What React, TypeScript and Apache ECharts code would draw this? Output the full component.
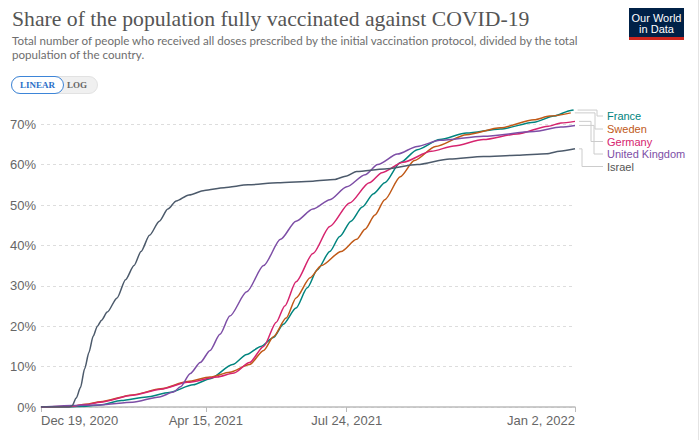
import React, { useEffect, useRef } from "react";
import * as echarts from "echarts";

const seriesNames = ["France", "Sweden", "Germany", "United Kingdom", "Israel"];

const franceDates = ["2020-12-19", "2021-01-08", "2021-01-20", "2021-01-30", "2021-02-14", "2021-03-04", "2021-03-20", "2021-04-06", "2021-04-18", "2021-05-04", "2021-05-14", "2021-05-24", "2021-06-02", "2021-06-09", "2021-06-18", "2021-06-26", "2021-07-03", "2021-07-12", "2021-07-19", "2021-07-27", "2021-08-04", "2021-08-12", "2021-08-20", "2021-08-31", "2021-09-12", "2021-09-28", "2021-10-17", "2021-11-10", "2021-12-04", "2021-12-18", "2021-12-30", "2022-01-01"];
const franceValues = [0, 0, 0.2, 0.5, 1.6, 2.5, 3.6, 5.5, 7, 10.5, 13, 15, 17.2, 20.5, 24.5, 29.5, 33.9, 38.5, 42.2, 46, 49.5, 52.8, 55.5, 60.5, 63.7, 66.2, 67.8, 68.8, 70.5, 72, 73.4, 73.5];

const swedenDates = ["2020-12-19", "2021-01-08", "2021-01-20", "2021-01-30", "2021-02-22", "2021-03-14", "2021-04-02", "2021-04-18", "2021-05-02", "2021-05-16", "2021-05-26", "2021-06-02", "2021-06-11", "2021-06-18", "2021-06-28", "2021-07-06", "2021-07-20", "2021-07-31", "2021-08-06", "2021-08-13", "2021-08-20", "2021-08-31", "2021-09-10", "2021-09-25", "2021-10-17", "2021-11-10", "2021-12-04", "2021-12-15", "2021-12-30"];
const swedenValues = [0, 0.1, 0.7, 1.3, 3, 4.5, 6.3, 7.4, 8.6, 10.5, 14, 17.4, 22, 27, 32, 35, 38.5, 41.5, 44, 47.5, 51.3, 57, 61, 64.5, 67.4, 69.1, 71.1, 72, 72.8];

const germanyDates = ["2020-12-19", "2021-01-08", "2021-01-20", "2021-01-30", "2021-02-22", "2021-03-14", "2021-04-02", "2021-04-23", "2021-05-05", "2021-05-16", "2021-05-26", "2021-06-04", "2021-06-10", "2021-06-18", "2021-06-30", "2021-07-12", "2021-07-26", "2021-08-09", "2021-08-18", "2021-09-02", "2021-09-22", "2021-10-08", "2021-10-29", "2021-11-22", "2021-12-14", "2021-12-23", "2022-01-02"];
const germanyValues = [0, 0.1, 0.6, 1.2, 2.9, 4.4, 6.1, 7.4, 8.4, 11, 15, 21, 25, 31, 38, 44.7, 50.5, 55.5, 58, 60.6, 63.3, 64.6, 66.2, 67.6, 69.5, 70.3, 70.7];

const ukDates = ["2020-12-19", "2021-01-10", "2021-01-30", "2021-02-22", "2021-03-13", "2021-03-23", "2021-03-28", "2021-04-04", "2021-04-11", "2021-04-18", "2021-04-25", "2021-05-02", "2021-05-14", "2021-05-26", "2021-06-07", "2021-06-18", "2021-06-30", "2021-07-12", "2021-07-24", "2021-08-06", "2021-08-15", "2021-08-29", "2021-09-12", "2021-09-28", "2021-10-29", "2021-12-04", "2021-12-23", "2022-01-02"];
const ukValues = [0, 0.4, 0.5, 1.2, 2.5, 3.7, 5, 8.3, 11, 14, 18, 22.5, 28.5, 35, 41.5, 46, 49, 51.3, 54.5, 57.5, 60, 62.6, 64.5, 66, 67, 68.2, 69.3, 69.7];

const israelDates = ["2020-12-19", "2021-01-08", "2021-01-10", "2021-01-13", "2021-01-16", "2021-01-19", "2021-01-22", "2021-01-25", "2021-01-28", "2021-01-31", "2021-02-04", "2021-02-11", "2021-02-17", "2021-02-23", "2021-02-28", "2021-03-06", "2021-03-13", "2021-03-19", "2021-03-25", "2021-04-03", "2021-04-14", "2021-04-28", "2021-05-15", "2021-06-05", "2021-06-30", "2021-07-15", "2021-07-24", "2021-07-31", "2021-08-20", "2021-09-12", "2021-10-05", "2021-10-29", "2021-11-22", "2021-12-13", "2021-12-22", "2022-01-02"];
const israelValues = [0, 0, 0.3, 2.2, 4.8, 9.5, 13.5, 17.5, 20, 21.5, 23.5, 27, 31.5, 35, 38.5, 42.5, 46, 49, 51, 52.5, 53.6, 54.3, 55, 55.5, 55.9, 56.3, 57.2, 58.3, 58.9, 60, 61.4, 62, 62.3, 62.7, 63.3, 63.9];

const xTickDates = ["2020-12-19", "2021-04-15", "2021-07-24", "2022-01-02"];
const xTickLabels = ["Dec 19, 2020", "Apr 15, 2021", "Jul 24, 2021", "Jan 2, 2022"];
const yTicks = [0, 10, 20, 30, 40, 50, 60, 70];

const colors = ["#00847e", "#c05917", "#d6246e", "#7d4ea6", "#4c5a6b"];
const labelColors = ["#00847e", "#c05917", "#d6246e", "#7d4ea6", "#555"];
const labelY = [116, 129, 141.5, 154, 166.5];
const stepX = [597, 595, 591, 594, 582];

const toTs = (d: string) => Date.parse(d + "T00:00:00Z");

export default function App() {
  const ref = useRef<HTMLDivElement>(null);
  useEffect(() => {
    const chart = echarts.init(ref.current!, null, { renderer: "svg" });
    const allDates = [franceDates, swedenDates, germanyDates, ukDates, israelDates];
    const allValues = [franceValues, swedenValues, germanyValues, ukValues, israelValues];
    const series = seriesNames.map((name, i) => ({
      name,
      type: "line",
      data: allDates[i].map((d, j) => [toTs(d), allValues[i][j]]),
      showSymbol: false,
      smooth: 0.25,
      smoothMonotone: "x",
      lineStyle: { color: colors[i], width: 1.5 },
      itemStyle: { color: colors[i] },
    }));
    const tickValues = xTickDates.map(toTs);
    chart.setOption({
      animation: false,
      backgroundColor: "#fff",
      grid: { left: 41, right: 125, top: 104, bottom: 33, containLabel: false },
      xAxis: {
        type: "value",
        min: tickValues[0],
        max: tickValues[tickValues.length - 1],
        axisLine: { lineStyle: { color: "#bbb", width: 1.5 } },
        axisTick: { show: true, customValues: tickValues, length: 5, lineStyle: { color: "#bbb" } },
        splitLine: { show: false },
        axisLabel: {
          customValues: tickValues,
          color: "#666",
          fontSize: 13,
          fontFamily: "Liberation Sans, Arial, sans-serif",
          margin: 7,
          alignMinLabel: "left",
          alignMaxLabel: "right",
          formatter: (v: number) => {
            const k = tickValues.indexOf(v);
            return k >= 0 ? xTickLabels[k] : "";
          },
        },
      },
      yAxis: {
        type: "value",
        min: 0,
        max: 75,
        interval: 10,
        axisLine: { show: false },
        axisTick: { show: false },
        splitLine: { show: true, showMaxLine: false, lineStyle: { color: "#ddd", type: [3, 3] } },
        axisLabel: {
          color: "#666",
          fontSize: 13,
          fontFamily: "Liberation Sans, Arial, sans-serif",
          margin: 5,
          showMaxLabel: false,
          formatter: (v: number) => (yTicks.indexOf(v) >= 0 ? v + "%" : ""),
        },
      },
      series,
    });

    const connectors: any[] = [];
    const labels: any[] = [];
    seriesNames.forEach((name, i) => {
      const ds = allDates[i];
      const vs = allValues[i];
      const p = chart.convertToPixel({ gridIndex: 0 }, [toTs(ds[ds.length - 1]), vs[vs.length - 1]]) as number[];
      connectors.push({
        type: "polyline",
        id: "conn" + i,
        silent: true,
        shape: { points: [[p[0] + 4, p[1]], [stepX[i], p[1]], [stepX[i], labelY[i]], [603, labelY[i]]] },
        style: { stroke: "#ccc", lineWidth: 1, fill: null },
      });
      labels.push({
        type: "text",
        id: "lab" + i,
        x: 607,
        y: labelY[i],
        style: {
          text: name,
          fill: labelColors[i],
          font: "11px 'Liberation Sans', Arial, sans-serif",
          verticalAlign: "middle",
        },
      });
    });

    chart.setOption({
      graphic: [
        {
          type: "text",
          id: "title",
          x: 12,
          y: 19,
          style: {
            text: "Share of the population fully vaccinated against COVID-19",
            fill: "#555",
            font: "21.7px 'Liberation Serif', 'Times New Roman', serif",
            verticalAlign: "middle",
          },
        },
        {
          type: "text",
          id: "sub1",
          x: 12,
          y: 40,
          style: {
            text: "Total number of people who received all doses prescribed by the initial vaccination protocol, divided by the total",
            fill: "#6e6e6e",
            font: "11.6px Lato, 'Liberation Sans', sans-serif",
            verticalAlign: "middle",
          },
        },
        {
          type: "text",
          id: "sub2",
          x: 12,
          y: 54,
          style: {
            text: "population of the country.",
            fill: "#6e6e6e",
            font: "11.6px Lato, 'Liberation Sans', sans-serif",
            verticalAlign: "middle",
          },
        },
        {
          type: "rect",
          id: "toggleBg",
          shape: { x: 11.5, y: 76.5, width: 86, height: 17, r: 8.5 },
          style: { fill: "#f0f0f0", stroke: "#e2e2e2", lineWidth: 1 },
        },
        {
          type: "rect",
          id: "toggleOn",
          shape: { x: 11.5, y: 76.5, width: 52, height: 17, r: 8.5 },
          style: { fill: "#fff", stroke: "#3d85d8", lineWidth: 1 },
        },
        {
          type: "text",
          id: "tLinear",
          x: 37.5,
          y: 85,
          style: {
            text: "LINEAR",
            fill: "#2b6fc9",
            font: "bold 9px 'Liberation Serif', serif",
            align: "center",
            verticalAlign: "middle",
          },
        },
        {
          type: "text",
          id: "tLog",
          x: 77,
          y: 85,
          style: {
            text: "LOG",
            fill: "#666",
            font: "bold 9px 'Liberation Serif', serif",
            align: "center",
            verticalAlign: "middle",
          },
        },
        {
          type: "rect",
          id: "logoBg",
          shape: { x: 629, y: 8, width: 55, height: 32 },
          style: { fill: "#002147" },
        },
        {
          type: "rect",
          id: "logoRed",
          shape: { x: 629, y: 37, width: 55, height: 3 },
          style: { fill: "#ce261e" },
        },
        {
          type: "text",
          id: "logo1",
          x: 656.5,
          y: 17.5,
          style: {
            text: "Our World",
            fill: "#fff",
            font: "11px 'Liberation Sans', Arial, sans-serif",
            align: "center",
            verticalAlign: "middle",
          },
        },
        {
          type: "text",
          id: "logo2",
          x: 656.5,
          y: 29,
          style: {
            text: "in Data",
            fill: "#fff",
            font: "11px 'Liberation Sans', Arial, sans-serif",
            align: "center",
            verticalAlign: "middle",
          },
        },
        {
          type: "line",
          id: "edge",
          shape: { x1: 698.5, y1: 0, x2: 698.5, y2: 440 },
          style: { stroke: "#e4e4e4", lineWidth: 1 },
        },
        ...connectors,
        ...labels,
      ],
    });
    return () => chart.dispose();
  }, []);
  return <div ref={ref} style={{ position: "absolute", left: 0, top: 0, width: 700, height: 440 }} />;
}
